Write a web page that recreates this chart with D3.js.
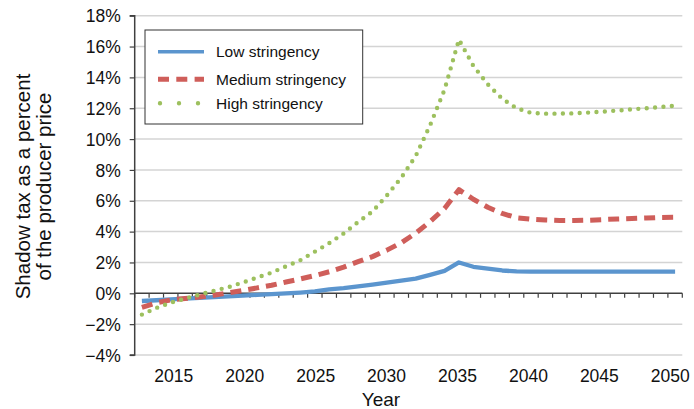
<!DOCTYPE html>
<html><head><meta charset="utf-8">
<script src="https://cdn.jsdelivr.net/npm/d3@7"></script>
<style>body{margin:0;background:#fff;} svg{display:block;font-family:"Liberation Sans",Arial,Helvetica,sans-serif;}</style>
</head><body><svg id="c" width="694" height="409"></svg>
<script>
const years = d3.range(2013, 2051);
const lowStringency = [-0.50,-0.45,-0.40,-0.35,-0.30,-0.25,-0.20,-0.15,-0.10,-0.05,0.00,0.05,0.12,0.25,0.33,0.45,0.57,0.70,0.82,0.95,1.20,1.45,2.00,1.72,1.60,1.48,1.42,1.40,1.40,1.40,1.40,1.40,1.40,1.40,1.40,1.40,1.40,1.40];
const mediumStringency = [-0.91,-0.62,-0.43,-0.33,-0.24,-0.12,0.03,0.18,0.35,0.52,0.73,0.93,1.15,1.40,1.70,2.05,2.38,2.80,3.28,3.90,4.65,5.50,6.72,6.10,5.58,5.18,4.90,4.80,4.75,4.72,4.72,4.74,4.78,4.82,4.85,4.88,4.92,4.93];
const highStringency = [-1.38,-0.95,-0.60,-0.34,-0.08,0.16,0.40,0.70,1.02,1.34,1.75,2.15,2.70,3.25,3.88,4.62,5.30,6.35,7.50,8.90,10.90,13.20,16.45,14.75,13.55,12.62,12.00,11.70,11.65,11.65,11.67,11.72,11.78,11.85,11.93,12.00,12.08,12.16];
const yTicks = [-4,-2,0,2,4,6,8,10,12,14,16,18];
const xLabelYears = [2015,2020,2025,2030,2035,2040,2045,2050];
const seriesNames = ["Low stringency","Medium stringency","High stringency"];
const colors = ["#5B95CE","#CF5E5A","#9DC05E"];

const svg = d3.select("#c");
const x = d3.scaleBand().domain(years).range([134.7, 682.3]).padding(0);
const y = d3.scaleLinear().domain([-4, 18]).range([355, 15.7]);
const cx = d => x(d) + x.bandwidth()/2;
const xLab = d3.scaleLinear().domain([2015, 2050]).range([173.8, 670.3]);

// gridlines
svg.append("g").selectAll("line").data(yTicks.filter(t => t !== 0)).join("line")
  .attr("x1", 134.7).attr("x2", 682.3).attr("y1", d => y(d)).attr("y2", d => y(d))
  .attr("stroke", "#d4d4d4").attr("stroke-width", 1.5);

// y axis
const yAxis = svg.append("g").attr("transform", "translate(134.7,0)")
  .call(d3.axisLeft(y).tickValues(yTicks).tickSize(5).tickPadding(9).tickFormat(d => (d < 0 ? "\u2212" + Math.abs(d) : d) + "%"));
yAxis.select(".domain").attr("stroke", "#404040").attr("stroke-width", 1.5).attr("d", `M-5,${y(18)}H0V${y(-4)}H-5`);
yAxis.selectAll(".tick line").attr("stroke", "#404040").attr("stroke-width", 1.2);
yAxis.selectAll("text").attr("font-size", 17.5).attr("fill", "#111").attr("dy", "0.35em");

// x axis line at 0 with ticks at band boundaries
const bounds = years.map(d => x(d)).concat([x.range()[1]]);
const xg = svg.append("g");
xg.append("line").attr("x1", 134.7).attr("x2", 682.3).attr("y1", y(0)).attr("y2", y(0))
  .attr("stroke", "#404040").attr("stroke-width", 1.5);
xg.selectAll("line.t").data(bounds).join("line").attr("class", "t")
  .attr("x1", d => d).attr("x2", d => d).attr("y1", y(0)).attr("y2", y(0) + 4.5)
  .attr("stroke", "#404040").attr("stroke-width", 1.2);
svg.append("g").selectAll("text").data(xLabelYears).join("text")
  .attr("x", d => xLab(d)).attr("y", 382).attr("text-anchor", "middle")
  .attr("font-size", 17.5).attr("fill", "#111").text(d => d);

// axis titles
svg.append("text").attr("x", 381).attr("y", 406).attr("text-anchor", "middle")
  .attr("font-size", 19).attr("fill", "#111").text("Year");
const yt = svg.append("text").attr("transform", "translate(0,186.5) rotate(-90)")
  .attr("text-anchor", "middle").attr("font-size", 20.5).attr("fill", "#111");
yt.append("tspan").attr("x", 0).attr("y", 30).text("Shadow tax as a percent");
yt.append("tspan").attr("x", 0).attr("y", 51).text("of the producer price");

// lines
const data = [lowStringency, mediumStringency, highStringency];
const line = d3.line().x((d, i) => cx(years[i])).y(d => y(d));
const styles = [
  {w: 4.3, dash: null, cap: "butt"},
  {w: 5, dash: "11 7", cap: "butt"},
  {w: 4.4, dash: "0 8.4", cap: "round"}
];
data.forEach((vals, k) => {
  svg.append("path").datum(vals).attr("d", line).attr("fill", "none")
    .attr("stroke", colors[k]).attr("stroke-width", styles[k].w)
    .attr("stroke-linecap", styles[k].cap).attr("stroke-linejoin", "round")
    .attr("stroke-dasharray", styles[k].dash);
});

// legend
const lg = svg.append("g");
lg.append("rect").attr("x", 145).attr("y", 30).attr("width", 217.7).attr("height", 94)
  .attr("fill", "#fff").attr("stroke", "#333").attr("stroke-width", 1);
const ly = [51.7, 79.3, 103.3];
seriesNames.forEach((n, k) => {
  if (k === 0) lg.append("line").attr("x1", 158).attr("x2", 204).attr("y1", ly[k]).attr("y2", ly[k]).attr("stroke", colors[k]).attr("stroke-width", 3.6);
  if (k === 1) lg.append("line").attr("x1", 158).attr("x2", 204).attr("y1", ly[k]).attr("y2", ly[k]).attr("stroke", colors[k]).attr("stroke-width", 5).attr("stroke-dasharray", "11 7.3");
  if (k === 2) lg.append("line").attr("x1", 160).attr("x2", 200).attr("y1", ly[k]).attr("y2", ly[k]).attr("stroke", colors[k]).attr("stroke-width", 4.4).attr("stroke-linecap", "round").attr("stroke-dasharray", "0 19");
  lg.append("text").attr("x", 216).attr("y", ly[k]).attr("dy", "0.35em").attr("font-size", 15.5).attr("fill", "#111").text(n);
});
</script></body></html>
